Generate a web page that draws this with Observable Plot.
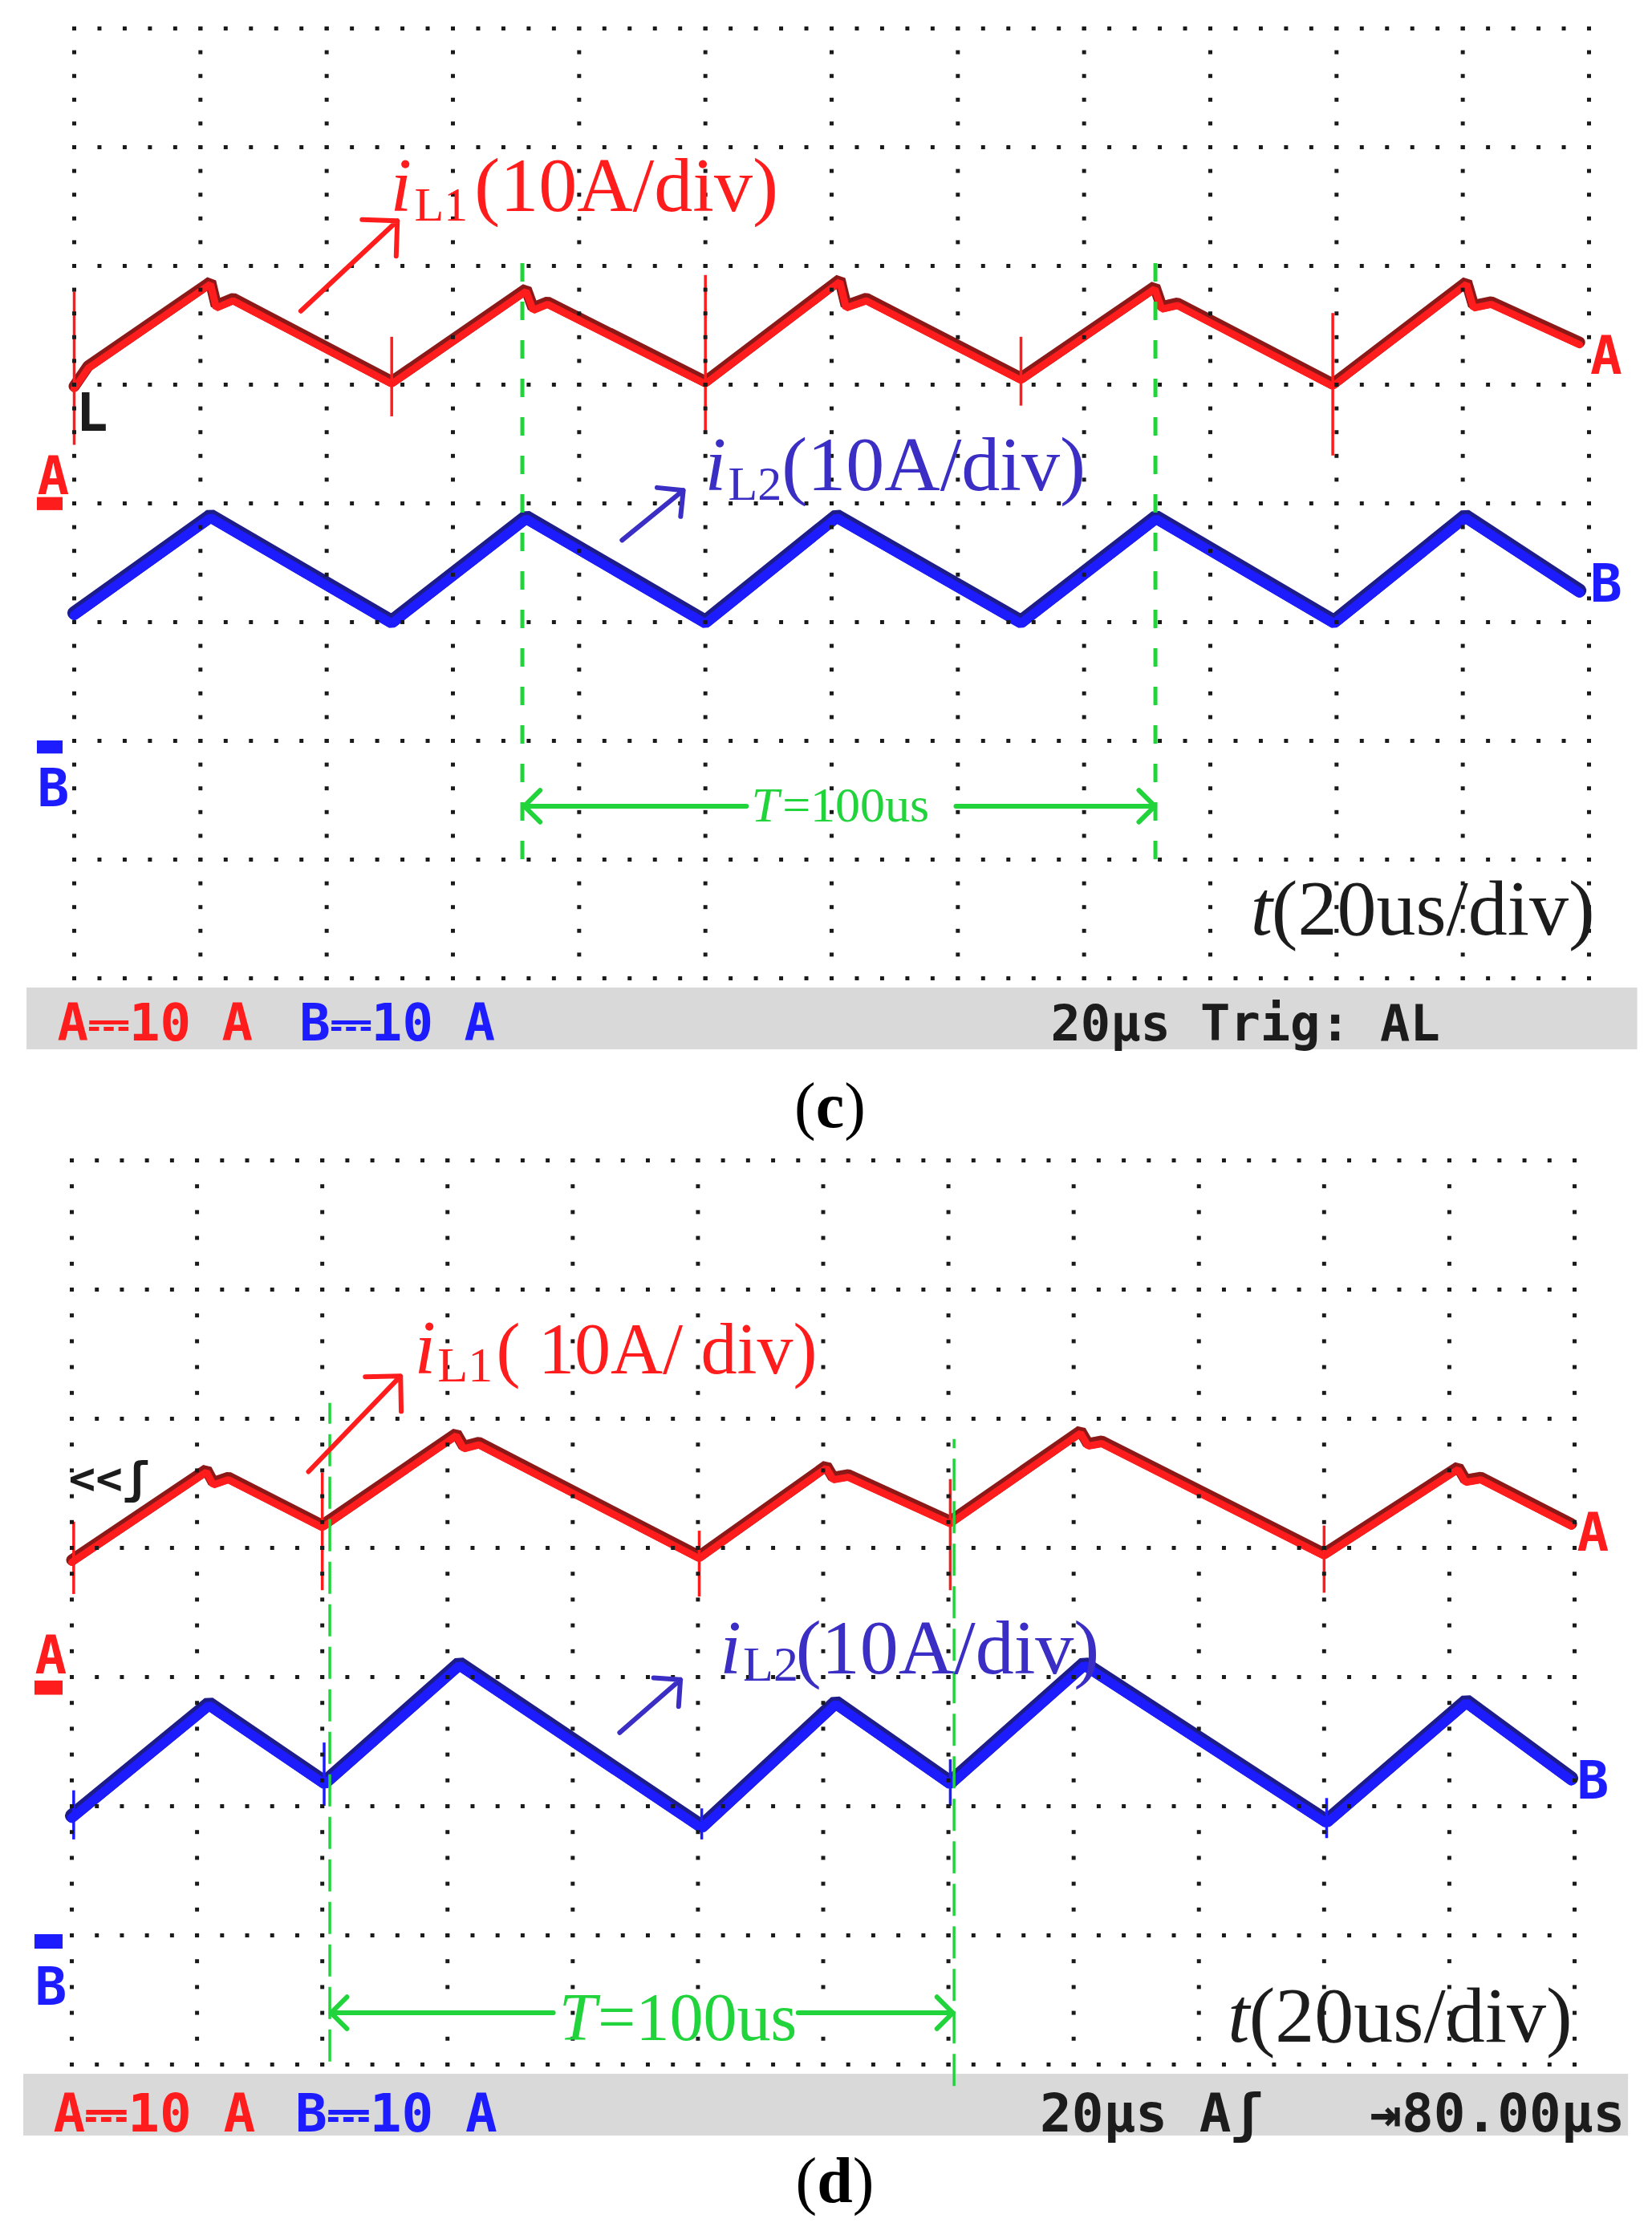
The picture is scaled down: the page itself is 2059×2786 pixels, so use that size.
<!DOCTYPE html>
<html><head><meta charset="utf-8">
<script src="https://cdn.jsdelivr.net/npm/d3@7"></script>
<script src="https://cdn.jsdelivr.net/npm/@observablehq/plot@0.6"></script>
<style>
body{margin:0;background:#fff;}
#wrap{position:relative;width:2059px;height:2786px;overflow:hidden;background:#fff;}
.pane{position:absolute;left:0;}
.cap{position:absolute;font-family:"Liberation Serif",serif;font-size:80px;line-height:1;width:2059px;text-align:center;}
</style></head><body>
<div id="wrap">
  <div id="pc" class="pane" style="top:0px"></div>
  <div class="cap" style="top:1338px;left:5px">(<b>c</b>)</div>
  <div id="pd" class="pane" style="top:1440px"></div>
  <div class="cap" style="top:2678px;left:11px">(<b>d</b>)</div>
</div>
<script>
// ---------- data: time in µs (20 µs/div), level in divisions ----------
// Panel (c)
const c_iL1 = [[0,4.98],[2.2,5.15],[21.6,5.86],[22.5,5.66],[25.2,5.72],[50.3,5.02],[71.6,5.80],[72.7,5.64],[75.0,5.69],[100.0,5.02],[121.3,5.88],[122.3,5.66],[125.5,5.72],[150.0,5.05],[171.2,5.82],[172.3,5.65],[174.8,5.68],[199.4,5.00],[220.6,5.86],[221.7,5.66],[224.5,5.69],[238.5,5.35]];
const c_iL2 = [[0,3.07],[21.6,3.89],[50.3,3.00],[71.6,3.88],[100.0,3.00],[120.8,3.89],[150.0,3.00],[171.4,3.88],[199.6,3.00],[220.4,3.89],[238.5,3.26]];
const c_iL1Spikes = [[0,5.78,4.49],[50.3,5.40,4.73],[100.0,5.92,4.61],[150.0,5.40,4.82],[199.4,5.60,4.40]];
const c_periodMarks = [71.0, 171.3];
// Panel (d)
const d_iL1 = [[0,3.90],[21.5,4.60],[22.6,4.50],[25.0,4.54],[40.0,4.17],[61.4,4.88],[62.6,4.78],[65.0,4.81],[100.2,3.93],[120.5,4.63],[121.6,4.54],[124.0,4.56],[140.3,4.20],[161.1,4.90],[162.3,4.80],[164.5,4.82],[200.0,3.95],[221.4,4.62],[222.6,4.52],[225.0,4.54],[239.5,4.18]];
const d_iL2 = [[0,1.92],[21.9,2.79],[40.4,2.18],[61.9,3.10],[100.6,1.84],[122.0,2.80],[140.3,2.18],[161.7,3.10],[200.4,1.88],[222.7,2.81],[239.5,2.21]];
const d_iL1Spikes = [[0.3,4.20,3.64],[40.0,4.58,3.67],[100.2,4.13,3.62],[140.3,4.53,3.67],[200.0,4.17,3.65]];
const d_iL2Spikes = [[0.3,2.12,1.74],[40.3,2.49,2.00],[100.6,1.98,1.74],[140.3,2.36,2.00],[200.4,2.06,1.75]];
const d_periodMarks = [41.2, 140.9];
// Texts
const labelL1 = ["i", "L1", "(10A/div)"];
const labelL2 = ["i", "L2", "(10A/div)"];
const labelT = ["t", "(20us/div)"];
const periodText = ["T", "=100us"];
const c_status = ["A\u239310 A", "B\u239310 A", "20\u00b5s Trig: AL"];
const d_status = ["A\u239310 A", "B\u239310 A", "20\u00b5s A\u0283", "\u21e580.00\u00b5s"];

// ---------- styling ----------
const RED = "#ff1c1c", RED_D = "#8c1818", BLUE = "#1c1cff", BLUE_D = "#1c1c8a";
const LBL_BLUE = "#3a2ec4", GREEN = "#22d43c", DOT = "#1a1a1a", BAND = "#d9d9d9", BLK = "#1c1c1c";
const SERIF = "Liberation Serif", MONO = "DejaVu Sans Mono";

function gridDots(nDiv) {
  const pts = [];
  for (let i = 0; i <= 12; i++) for (let k = 0; k <= nDiv * 5; k++) pts.push([i * 20, k / 5]);
  for (let j = 0; j <= nDiv; j++) for (let k = 0; k <= 60; k++) pts.push([k * 4, j]);
  return pts;
}
const X = d => d[0], Y = d => d[1];
function T(s, x, y, o) {
  return Plot.text([{s, x, y}], {x: "x", y: "y", text: "s", textAnchor: "start", lineAnchor: "bottom", ...o});
}
function trace(data, bright, dark, w) {
  return [
    Plot.line(data, {x: X, y: Y, stroke: dark, strokeWidth: w, strokeLinejoin: "miter", dy: -1}),
    Plot.line(data, {x: X, y: Y, stroke: bright, strokeWidth: w - 5, dy: 2, strokeLinejoin: "miter"})
  ];
}
function arrow(x1, y1, x2, y2, stroke, sw, hl) {
  return Plot.arrow([{x1, y1, x2, y2}], {x1: "x1", y1: "y1", x2: "x2", y2: "y2", stroke, strokeWidth: sw, headAngle: 90, headLength: hl});
}
function box(x1, x2, y1, y2, fill) {
  return Plot.rect([{x1, x2, y1, y2}], {x1: "x1", x2: "x2", y1: "y1", y2: "y2", fill});
}

// ---------- panel (c) ----------
const pc = Plot.plot({
  width: 2059, height: 1320,
  marginLeft: 92, marginRight: 79, marginTop: 35, marginBottom: 101,
  x: {domain: [0, 240], axis: null},
  y: {domain: [0, 8], axis: null},
  style: {background: "transparent", overflow: "visible"},
  marks: [
    box(-7.5, 247.7, -0.601, -0.081, BAND),
    ...trace(c_iL2, BLUE, BLUE_D, 17),
    ...trace(c_iL1, RED, RED_D, 14),
    Plot.ruleX(c_iL1Spikes, {x: d => d[0], y1: d => d[1], y2: d => d[2], stroke: RED, strokeWidth: 3.5}),
    Plot.dot(gridDots(8), {x: X, y: Y, symbol: "square", r: 2.8, fill: DOT}),
    Plot.ruleX(c_periodMarks, {x: d => d, y1: 1.0, y2: 6.06, stroke: GREEN, strokeWidth: 5, strokeDasharray: "23,25"}),
    // labels
    T(labelL1[0], 50.1, 6.46, {fontFamily: SERIF, fontStyle: "italic", fontSize: 96, fill: RED}),
    T(labelL1[1], 53.9, 6.38, {fontFamily: SERIF, fontSize: 60, fill: RED}),
    T(labelL1[2], 63.4, 6.46, {fontFamily: SERIF, fontSize: 96, fill: RED}),
    arrow(35.9, 5.62, 51.2, 6.38, RED, 6, 11),
    T(labelL2[0], 99.9, 4.11, {fontFamily: SERIF, fontStyle: "italic", fontSize: 96, fill: LBL_BLUE}),
    T(labelL2[1], 103.6, 4.03, {fontFamily: SERIF, fontSize: 60, fill: LBL_BLUE}),
    T(labelL2[2], 112.1, 4.11, {fontFamily: SERIF, fontSize: 96, fill: LBL_BLUE}),
    arrow(86.8, 3.69, 96.5, 4.11, LBL_BLUE, 6, 11),
    T(labelT[0], 186.4, 0.365, {fontFamily: SERIF, fontStyle: "italic", fontSize: 98, fill: BLK}),
    T(labelT[1], 189.7, 0.365, {fontFamily: SERIF, fontSize: 98, fill: BLK}),
    T(periodText[0], 107.3, 1.32, {fontFamily: SERIF, fontStyle: "italic", fontSize: 62, fill: GREEN}),
    T(periodText[1], 112.2, 1.32, {fontFamily: SERIF, fontSize: 62, fill: GREEN}),
    arrow(106.5, 1.45, 71.3, 1.45, GREEN, 6, 7),
    arrow(139.7, 1.45, 171.2, 1.45, GREEN, 6, 7),
    // channel markers
    T("A", 240.2, 5.09, {fontFamily: MONO, fontWeight: "bold", fontSize: 66, fill: RED}),
    T("B", 240.2, 3.17, {fontFamily: MONO, fontWeight: "bold", fontSize: 66, fill: BLUE}),
    T("A", -5.85, 4.08, {fontFamily: MONO, fontWeight: "bold", fontSize: 66, fill: RED}),
    box(-5.85, -1.78, 3.94, 4.05, RED),
    T("B", -5.85, 1.45, {fontFamily: MONO, fontWeight: "bold", fontSize: 66, fill: BLUE}),
    box(-5.85, -1.78, 1.89, 2.0, BLUE),
    T("L", 0.3, 4.61, {fontFamily: MONO, fontWeight: "bold", fontSize: 66, fill: BLK}),
    // status bar
    T(c_status[0], -2.67, -0.527, {fontFamily: MONO, fontWeight: "bold", fontSize: 64, fill: RED}),
    T(c_status[1], 35.7, -0.527, {fontFamily: MONO, fontWeight: "bold", fontSize: 64, fill: BLUE}),
    T(c_status[2], 154.7, -0.527, {fontFamily: MONO, fontWeight: "bold", fontSize: 62, fill: BLK})
  ]
});
document.getElementById("pc").appendChild(pc);

// ---------- panel (d) ----------
const pd = Plot.plot({
  width: 2059, height: 1240,
  marginLeft: 89, marginRight: 97, marginTop: 6, marginBottom: 107,
  x: {domain: [0, 240], axis: null},
  y: {domain: [0, 7], axis: null},
  style: {background: "transparent", overflow: "visible"},
  marks: [
    box(-7.69, 248.6, -0.553, -0.075, BAND),
    ...trace(d_iL2, BLUE, BLUE_D, 17),
    ...trace(d_iL1, RED, RED_D, 14),
    Plot.ruleX(d_iL1Spikes, {x: d => d[0], y1: d => d[1], y2: d => d[2], stroke: RED, strokeWidth: 3.5}),
    Plot.ruleX(d_iL2Spikes, {x: d => d[0], y1: d => d[1], y2: d => d[2], stroke: BLUE, strokeWidth: 3.5}),
    Plot.dot(gridDots(7), {x: X, y: Y, symbol: "square", r: 2.8, fill: DOT}),
    Plot.ruleX([d_periodMarks[0]], {x: d => d, y1: 0.02, y2: 5.12, stroke: GREEN, strokeWidth: 3.5, strokeDasharray: "40,13"}),
    Plot.ruleX([d_periodMarks[1]], {x: d => d, y1: -0.17, y2: 4.84, stroke: GREEN, strokeWidth: 3.5, strokeDasharray: "40,13"}),
    // labels
    T(labelL1[0], 54.7, 5.35, {fontFamily: SERIF, fontStyle: "italic", fontSize: 96, fill: RED}),
    T(labelL1[1], 58.4, 5.29, {fontFamily: SERIF, fontSize: 62, fill: RED}),
    T("( 10A/ div)", 67.8, 5.35, {fontFamily: SERIF, fontSize: 90, fill: RED}),
    arrow(37.8, 4.59, 52.5, 5.33, RED, 6, 11),
    T(labelL2[0], 103.5, 3.03, {fontFamily: SERIF, fontStyle: "italic", fontSize: 96, fill: LBL_BLUE}),
    T(labelL2[1], 107.2, 2.97, {fontFamily: SERIF, fontSize: 62, fill: LBL_BLUE}),
    T(labelL2[2], 115.6, 3.03, {fontFamily: SERIF, fontSize: 96, fill: LBL_BLUE}),
    arrow(87.5, 2.57, 97.2, 2.98, LBL_BLUE, 6, 11),
    T(labelT[0], 184.6, 0.174, {fontFamily: SERIF, fontStyle: "italic", fontSize: 98, fill: BLK}),
    T(labelT[1], 188.0, 0.174, {fontFamily: SERIF, fontSize: 98, fill: BLK}),
    T(periodText[0], 77.8, 0.19, {fontFamily: SERIF, fontStyle: "italic", fontSize: 84, fill: GREEN}),
    T(periodText[1], 84.0, 0.19, {fontFamily: SERIF, fontSize: 84, fill: GREEN}),
    arrow(76.9, 0.40, 41.4, 0.40, GREEN, 6, 7),
    arrow(116.0, 0.40, 140.7, 0.40, GREEN, 6, 7),
    // channel markers
    T("A", 240.4, 3.98, {fontFamily: MONO, fontWeight: "bold", fontSize: 66, fill: RED}),
    T("B", 240.4, 2.06, {fontFamily: MONO, fontWeight: "bold", fontSize: 66, fill: BLUE}),
    T("A", -5.9, 3.03, {fontFamily: MONO, fontWeight: "bold", fontSize: 66, fill: RED}),
    box(-5.9, -1.41, 2.86, 2.97, RED),
    T("B", -5.9, 0.46, {fontFamily: MONO, fontWeight: "bold", fontSize: 66, fill: BLUE}),
    box(-5.9, -1.41, 0.894, 1.006, BLUE),
    T("<<\u0283", -0.5, 4.42, {fontFamily: MONO, fontWeight: "bold", fontSize: 56, fill: BLK}),
    // status bar
    T(d_status[0], -2.95, -0.52, {fontFamily: MONO, fontWeight: "bold", fontSize: 66, fill: RED}),
    T(d_status[1], 35.7, -0.52, {fontFamily: MONO, fontWeight: "bold", fontSize: 66, fill: BLUE}),
    T(d_status[2], 154.6, -0.52, {fontFamily: MONO, fontWeight: "bold", fontSize: 66, fill: BLK}),
    T(d_status[3], 207.3, -0.52, {fontFamily: MONO, fontWeight: "bold", fontSize: 66, fill: BLK})
  ]
});
document.getElementById("pd").appendChild(pd);
</script>
</body></html>
